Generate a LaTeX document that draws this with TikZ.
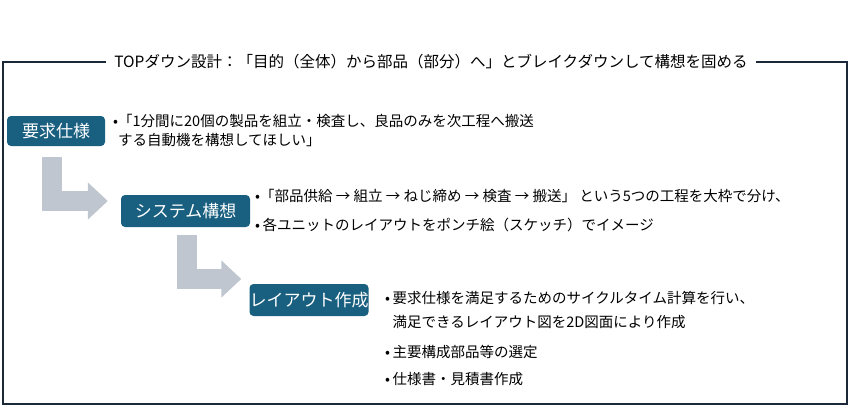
\documentclass[tikz,border=0pt]{standalone}
\usepackage{fontspec}
\setmainfont{Noto Sans CJK JP}
\usepackage{tikz}
\usetikzlibrary{arrows.meta}
\definecolor{stageblue}{RGB}{24, 95, 128}
\definecolor{flowgray}{RGB}{191, 198, 207}
\definecolor{framenavy}{RGB}{27, 40, 56}

\begin{document}
\begin{tikzpicture}[x=1pt, y=1pt,
  stage/.style={fill=stageblue, text=white, rounded corners=4pt, inner sep=0pt, font=\fontsize{17}{20}\selectfont},
  note/.style={anchor=west, align=left, inner sep=0pt, font=\fontsize{14.5}{19}\selectfont},
  flow/.style={draw=flowgray, line width=20pt, -{Triangle[width=36pt, length=20pt]}}]
  \useasboundingbox (0, 0) rectangle (850, -408);

  % Frame
  \draw [color=framenavy, line width=1.6pt] (3, -62) rectangle (847, -404);
  \node (title) [fill=white, inner xsep=8pt, font=\fontsize{15.5}{18}\selectfont] at (431, -62)
    {TOPダウン設計：「目的（全体）から部品（部分）へ」とブレイクダウンして構想を固める};

  % Stages
  \node (req) [stage, minimum width=98pt, minimum height=30pt] at (56, -131) {要求仕様};
  \node (sys) [stage, minimum width=129pt, minimum height=32pt] at (185.5, -211) {システム構想};
  \node (lay) [stage, minimum width=118pt, minimum height=32pt] at (309, -300) {レイアウト作成};

  % Flow
  \draw [flow] ([xshift=-4pt, yshift=-11pt]req.south) |- ([xshift=-13pt, yshift=10pt]sys.west);
  \draw [flow] ([xshift=1.5pt, yshift=-8pt]sys.south) |- ([xshift=-8pt, yshift=21pt]lay.west);

  % Notes
  \node (reqnote) [note] at (113, -130.5)
    {•「1分間に20個の製品を組立・検査し、良品のみを次工程へ搬送\\\hphantom{•}する自動機を構想してほしい」};
  \node (sysnoteA) [note] at (255, -196) {•「部品供給 → 組立 → ねじ締め → 検査 → 搬送」 という5つの工程を大枠で分け、};
  \node (sysnoteB) [note] at (255, -225) {•\,各ユニットのレイアウトをポンチ絵（スケッチ）でイメージ};
  \node (laynoteA) [note] at (385, -310)
    {•\,要求仕様を満足するためのサイクルタイム計算を行い、\\[5pt]\hphantom{•\,}満足できるレイアウト図を2D図面により作成};
  \node (laynoteB) [note] at (385, -352) {•\,主要構成部品等の選定};
  \node (laynoteC) [note] at (385, -379) {•\,仕様書・見積書作成};
\end{tikzpicture}
\end{document}
